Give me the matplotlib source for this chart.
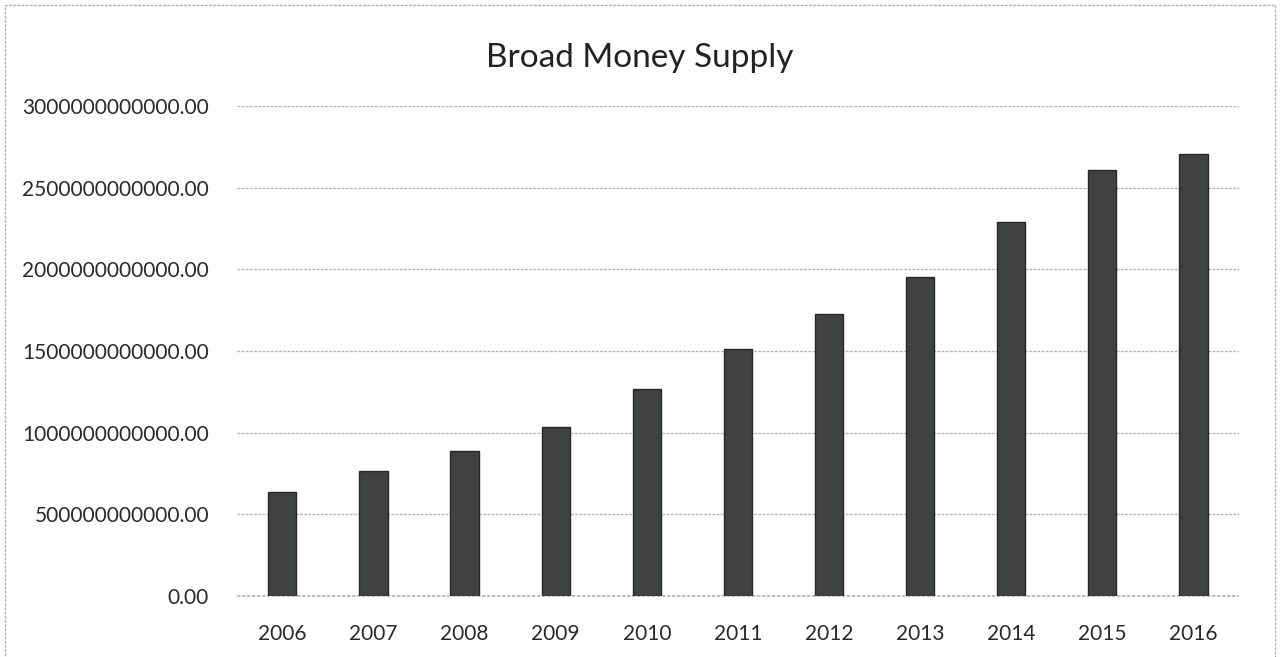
import matplotlib
matplotlib.use("Agg")
import matplotlib.pyplot as plt
from matplotlib.ticker import FuncFormatter, MultipleLocator
from matplotlib.patches import Rectangle

years = ["2006", "2007", "2008", "2009", "2010", "2011",
         "2012", "2013", "2014", "2015", "2016"]
money_supply = [0.637e12, 0.765e12, 0.888e12, 1.035e12, 1.266e12, 1.511e12,
                1.729e12, 1.953e12, 2.287e12, 2.611e12, 2.709e12]

plt.rcParams['font.family'] = ['Lato', 'DejaVu Sans']

fig = plt.figure(figsize=(12.8, 6.57), dpi=100)
ax = fig.add_axes([0.185, 0.0929, 0.783, 0.7458])

x = list(range(len(years)))
ax.bar(x, money_supply, width=0.31, color="#3f4241", edgecolor="#262726",
       linewidth=1.0, zorder=3)

ax.set_xlim(-0.5, len(years) - 0.5)
ax.set_ylim(0, 3e12)
ax.yaxis.set_major_locator(MultipleLocator(5e11))
ax.yaxis.set_major_formatter(FuncFormatter(lambda v, p: f"{v:.2f}"))
ax.set_xticks(x)
ax.set_xticklabels(years)

ax.grid(axis="y", color="#b5b5b5", linewidth=1.0, linestyle=(0, (2, 1)), zorder=0)
ax.axhline(0, color="#b5b5b5", linewidth=1.2, linestyle=(0, (2, 1)), zorder=1, clip_on=False)
for s in ax.spines.values():
    s.set_visible(False)
ax.tick_params(axis="both", length=0, colors="#2a2a2a")
ax.tick_params(axis="y", pad=20, labelsize=15)
ax.tick_params(axis="x", pad=20, labelsize=15)

fig.text(0.5, 0.912, "Broad Money Supply", ha="center", va="center",
         fontsize=24, color="#222222")

fig.patches.append(Rectangle((0.004, -0.01), 0.992, 1.002, transform=fig.transFigure,
                             fill=False, edgecolor="#b0b0b0", linewidth=1.0,
                             linestyle=(0, (2, 1))))

fig.savefig("out.png", dpi=100)
